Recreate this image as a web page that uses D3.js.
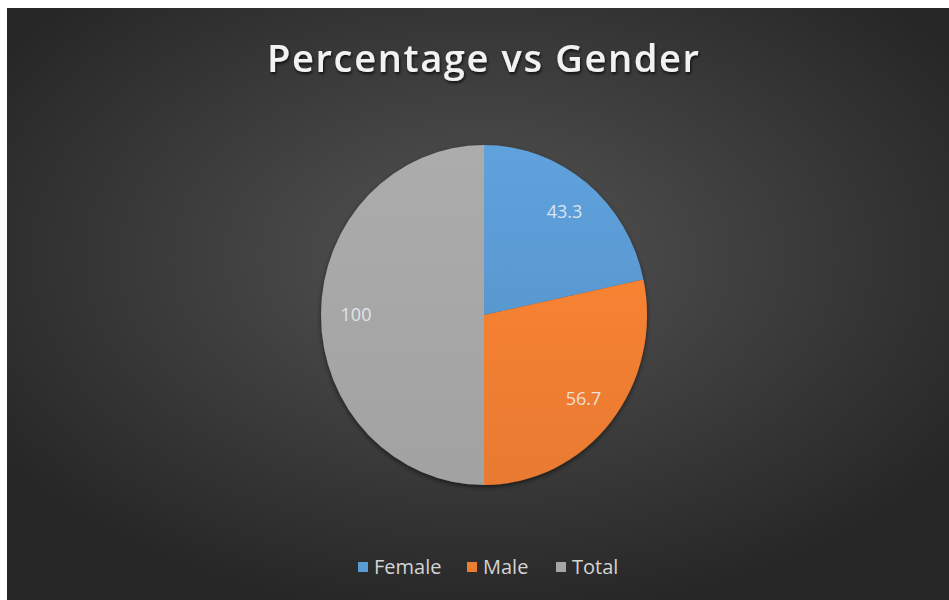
<!DOCTYPE html>
<html>
<head>
<meta charset="utf-8">
<script src="https://cdn.jsdelivr.net/npm/d3@7"></script>
<style>
  html, body { margin: 0; padding: 0; background: #ffffff; }
  svg { display: block; }
</style>
</head>
<body>
<svg id="chart" width="949" height="600"></svg>
<script>
// Chart data
const categories = ["Female", "Male", "Total"];
const values = [43.3, 56.7, 100];
const seriesColors = ["#5b9bd5", "#ed7d31", "#a5a5a5"];
const titleText = "Percentage vs Gender";

const W = 949, H = 600;
const svg = d3.select("#chart");
const defs = svg.append("defs");

// Dark radial backdrop
const bg = defs.append("radialGradient")
  .attr("id", "bgGrad")
  .attr("cx", "50%").attr("cy", "42%").attr("r", "62%");
bg.append("stop").attr("offset", "0%").attr("stop-color", "#545454");
bg.append("stop").attr("offset", "100%").attr("stop-color", "#262626");

svg.append("rect")
  .attr("x", 7).attr("y", 8)
  .attr("width", W - 7).attr("height", H - 8)
  .attr("fill", "url(#bgGrad)");

// Slice gradients (lighter at the top)
const shade = (c, k) => d3.color(c)[k > 0 ? "brighter" : "darker"](Math.abs(k)).formatHex();
seriesColors.forEach((c, i) => {
  const g = defs.append("linearGradient")
    .attr("id", "slice" + i)
    .attr("x1", 0).attr("y1", 0).attr("x2", 0).attr("y2", 1);
  g.append("stop").attr("offset", "0%").attr("stop-color", shade(c, 0.12));
  g.append("stop").attr("offset", "100%").attr("stop-color", shade(c, -0.06));
});

// Shadows
const sh = defs.append("filter").attr("id", "pieShadow")
  .attr("x", "-10%").attr("y", "-10%").attr("width", "120%").attr("height", "120%");
sh.append("feDropShadow").attr("dx", 0).attr("dy", 2).attr("stdDeviation", 2.5)
  .attr("flood-color", "#000").attr("flood-opacity", 0.55);

const ts = defs.append("filter").attr("id", "textShadow")
  .attr("x", "-10%").attr("y", "-30%").attr("width", "120%").attr("height", "160%");
ts.append("feDropShadow").attr("dx", 1).attr("dy", 2).attr("stdDeviation", 1.5)
  .attr("flood-color", "#000").attr("flood-opacity", 0.75);

// Title
svg.append("text")
  .attr("x", 483).attr("y", 72)
  .attr("text-anchor", "middle")
  .attr("font-family", "'Open Sans', sans-serif")
  .attr("font-weight", 600)
  .attr("font-size", 38)
  .attr("fill", "#f2f2f2")
  .attr("textLength", 432)
  .attr("lengthAdjust", "spacing")
  .attr("filter", "url(#textShadow)")
  .text(titleText);

// Pie
const cx = 484, cy = 315, r = 163, ky = 170 / 163;
const pie = d3.pie().sort(null).value(d => d.value);
const data = pie(categories.map((c, i) => ({ name: c, value: values[i], i })));
const arc = d3.arc().innerRadius(0).outerRadius(r);
const labelArc = d3.arc().innerRadius(128).outerRadius(128);

const pieG = svg.append("g")
  .attr("transform", `translate(${cx},${cy}) scale(1,${ky})`)
  .attr("filter", "url(#pieShadow)");

pieG.selectAll("path")
  .data(data)
  .join("path")
  .attr("d", arc)
  .attr("fill", d => `url(#slice${d.data.i})`);

// Data labels
svg.append("g")
  .selectAll("text")
  .data(data)
  .join("text")
  .attr("x", d => cx + labelArc.centroid(d)[0])
  .attr("y", d => cy + labelArc.centroid(d)[1] * ky)
  .attr("dy", "0.35em")
  .attr("text-anchor", "middle")
  .attr("font-family", "'Open Sans', sans-serif")
  .attr("font-size", 18)
  .attr("fill", "#eef2f6")
  .attr("fill-opacity", 0.85)
  .text(d => d.data.value);

// Legend
const legendItems = categories.map((c, i) => ({ name: c, color: seriesColors[i] }));
const legendX = [358, 467, 556];
const legend = svg.append("g");
const item = legend.selectAll("g")
  .data(legendItems)
  .join("g")
  .attr("transform", (d, i) => `translate(${legendX[i]},567)`);
item.append("rect")
  .attr("x", 0).attr("y", -5)
  .attr("width", 10).attr("height", 10)
  .attr("fill", d => d.color);
item.append("text")
  .attr("x", 16).attr("y", 0)
  .attr("dy", "0.35em")
  .attr("font-family", "'Open Sans', sans-serif")
  .attr("font-size", 20)
  .attr("fill", "#d4d4d4")
  .text(d => d.name);
</script>
</body>
</html>
